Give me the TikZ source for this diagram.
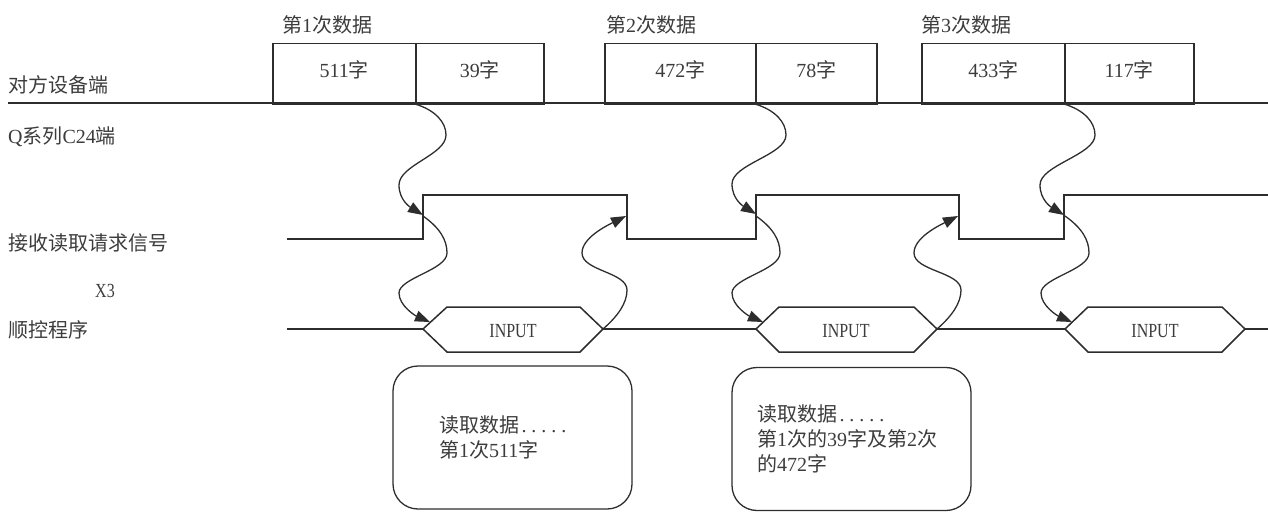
\documentclass[tikz,border=0pt]{standalone}
\usepackage{fontspec}
\setmainfont{Liberation Serif}
\newfontfamily\cjk{Noto Sans CJK SC}
\newfontfamily\narrowfont[FakeStretch=0.8]{Liberation Serif}
\usetikzlibrary{arrows.meta,calc}
\newcommand\zh[1]{{\cjk #1}}
\newcommand\wdots{\makebox[10pt]{.}\makebox[10pt]{.}\makebox[10pt]{.}\makebox[10pt]{.}\makebox[10pt]{.}}
\definecolor{ln}{RGB}{45,45,45}
\definecolor{tx}{RGB}{60,60,60}
% wave connectors
\newcommand\waveA[2]{\draw[wave] (#1) .. controls +(20,6) and +(0,-13) .. ($(#1)+(31,31)$) .. controls +(0,20) and +(0,-20) .. ($(#2)+(-24,-30)$) .. controls +(0,15) and +(-13,-8) .. (#2);}
\newcommand\waveB[2]{\draw[wave] (#1) .. controls +(17,12) and +(0,-13) .. ($(#1)+(24,37)$) .. controls +(0,17) and +(0,-15) .. ($(#2)+(-31,-29)$) .. controls +(0,13) and +(-14,-6) .. (#2);}
\newcommand\waveC[2]{\draw[wave] (#1) .. controls +(15,-13) and +(0,13) .. ($(#1)+(24,-39)$) .. controls +(0,-18) and +(0,18) .. ($(#2)+(-44,37)$) .. controls +(0,-15) and +(-20,10) .. (#2);}
\begin{document}
\begin{tikzpicture}[x=1pt,y=-1pt,
  every node/.style={font=\fontsize{20}{25}\selectfont, text=tx},
  lbl/.style={anchor=west, inner sep=0pt},
  databox/.style={draw=ln, line width=1.5pt, minimum height=60, inner sep=0pt, anchor=north west, text height=17.6pt, text depth=10.4pt},
  sig/.style={draw=ln, line width=1.5pt},
  wave/.style={draw=ln, line width=1.3pt, -{Triangle[length=15pt,width=11pt]}},
  note/.style={draw=ln, line width=1.3pt, rounded corners=25pt, minimum width=239, minimum height=143, align=left, inner sep=0pt},
  hexlbl/.style={inner sep=0pt, font=\fontsize{20}{25}\narrowfont}
]
\useasboundingbox (0,0) rectangle (1268,511);

% row labels
\node[lbl] (l1) at (8,85) {\zh{对方设备端}};
\node[lbl] (l2) at (8,137) {Q\zh{系列}C24\zh{端}};
\node[lbl] (l3) at (8,243) {\zh{接收读取请求信号}};
\node[hexlbl] (l4) at (105,291) {X3};
\node[lbl] (l5) at (8,330) {\zh{顺控程序}};

% data titles
\node[lbl] (t1) at (282,25) {\zh{第}1\zh{次数据}};
\node[lbl] (t2) at (606,25) {\zh{第}2\zh{次数据}};
\node[lbl] (t3) at (921,25) {\zh{第}3\zh{次数据}};

% data boxes
\node[databox, minimum width=143] (b11) at (272,43) {511\zh{字}};
\node[databox, minimum width=128] (b12) at (415,43) {39\zh{字}};
\node[databox, minimum width=151] (b21) at (604,43) {472\zh{字}};
\node[databox, minimum width=121] (b22) at (755,43) {78\zh{字}};
\node[databox, minimum width=143] (b31) at (921,43) {433\zh{字}};
\node[databox, minimum width=129] (b32) at (1064,43) {117\zh{字}};

% partner line
\coordinate (tl) at (8,103);
\coordinate (tr) at (1268,103);
\draw[sig, line width=1.8pt] (tl) -- (tr);

% read request signal
\draw[sig] (287,239) -| (423,195) -| (627,239) -| (756,195) -| (959,239) -| (1064,195) -- (1268,195);

% sequence program line with INPUT hexagons
\coordinate (h1w) at (423,329); \coordinate (h1e) at (603,329);
\coordinate (h2w) at (756,329); \coordinate (h2e) at (937,329);
\coordinate (h3w) at (1065,329); \coordinate (h3e) at (1245,329);
\coordinate (s0) at (287,329); \coordinate (s9) at (1268,329);
\draw[sig] (s0) -- (h1w) (h1e) -- (h2w) (h2e) -- (h3w) (h3e) -- (s9);
\draw[sig] (h1w) -- (447,307) -- (580,307) -- (h1e) -- (580,352) -- (447,352) -- cycle;
\draw[sig] (h2w) -- (779,307) -- (914,307) -- (h2e) -- (914,352) -- (779,352) -- cycle;
\draw[sig] (h3w) -- (1088,307) -- (1222,307) -- (h3e) -- (1222,352) -- (1088,352) -- cycle;
\node[hexlbl] (i1) at (513,331) {INPUT};
\node[hexlbl] (i2) at (846,331) {INPUT};
\node[hexlbl] (i3) at (1155,331) {INPUT};

% wave connector end points
\coordinate (a1s) at (415,104); \coordinate (a1e) at (423,215);
\coordinate (b1s) at (423,216); \coordinate (b1e) at (430,322);
\coordinate (c1s) at (603,329); \coordinate (c1e) at (626,216);
\coordinate (a2s) at (755,104); \coordinate (a2e) at (756,214);
\coordinate (b2s) at (756,216); \coordinate (b2e) at (763,322);
\coordinate (c2s) at (937,329); \coordinate (c2e) at (958,216);
\coordinate (a3s) at (1064,104); \coordinate (a3e) at (1064,215);
\coordinate (b3s) at (1065,216); \coordinate (b3e) at (1072,322);
\waveA{a1s}{a1e} \waveB{b1s}{b1e} \waveC{c1s}{c1e}
\waveA{a2s}{a2e} \waveB{b2s}{b2e} \waveC{c2s}{c2e}
\waveA{a3s}{a3e} \waveB{b3s}{b3e}

% notes
\node[note, text width=147] (n1) at (512.5,437.5) {\zh{读取数据}\wdots\\\zh{第}1\zh{次}511\zh{字}};
\node[note, text width=189] (n2) at (851.5,439) {\zh{读取数据}\wdots\\\zh{第}1\zh{次的}39\zh{字及第}2\zh{次}\\\zh{的}472\zh{字}};
\end{tikzpicture}
\end{document}
